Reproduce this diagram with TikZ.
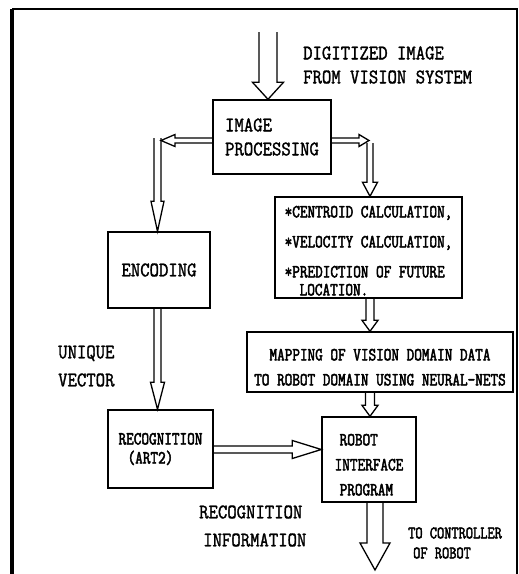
\documentclass[tikz,border=0pt]{standalone}
\usepackage{fontspec}
\usetikzlibrary{calc}
\newfontfamily\bigf[FakeStretch=0.88, FakeBold=1.5]{Latin Modern Mono}
\newfontfamily\smf[FakeStretch=0.8, FakeBold=2.5]{Latin Modern Mono}
\newcommand\arrD[5]{\draw[harrow] let \p1=(#1),\p2=(#2) in (\x2-#3pt,\y1) -- (\x2-#3pt,\y2+#5pt) -- (\x2-#4pt,\y2+#5pt) -- (\x2,\y2) -- (\x2+#4pt,\y2+#5pt) -- (\x2+#3pt,\y2+#5pt) -- (\x2+#3pt,\y1);}
\newcommand\arrR[5]{\draw[harrow] let \p1=(#1),\p2=(#2) in (\x1,\y2+#3pt) -- (\x2-#5pt,\y2+#3pt) -- (\x2-#5pt,\y2+#4pt) -- (\x2,\y2) -- (\x2-#5pt,\y2-#4pt) -- (\x2-#5pt,\y2-#3pt) -- (\x1,\y2-#3pt);}
\newcommand\arrL[5]{\draw[harrow] let \p1=(#1),\p2=(#2) in (\x1,\y2+#3pt) -- (\x2+#5pt,\y2+#3pt) -- (\x2+#5pt,\y2+#4pt) -- (\x2,\y2) -- (\x2+#5pt,\y2-#4pt) -- (\x2+#5pt,\y2-#3pt) -- (\x1,\y2-#3pt);}
\begin{document}
\begin{tikzpicture}[x=1pt,y=-1pt,
  box/.style={draw, line width=1.4pt, rectangle, inner sep=0pt},
  big/.style={font=\bigf\fontsize{20.7}{24}\selectfont},
  small/.style={font=\smf\fontsize{18.5}{18}\selectfont},
  lbl/.style={inner sep=0pt, anchor=west, align=left},
  harrow/.style={line width=1.3pt, line join=miter}]
\useasboundingbox (0,0) rectangle (519,574);
\fill[white] (0,0) rectangle (519,574);
% frame
\draw[line width=3.5pt] (12,580) -- (12,9);
\draw[line width=2.5pt] (12,9) -- (517,9) -- (517,580);
% boxes
\node[box, big, minimum width=118pt, minimum height=74pt, align=left] (ip) at (272,137) {IMAGE\\PROCESSING};
\node[box, big, minimum width=102pt, minimum height=76pt] (enc) at (159,270) {ENCODING};
\node[box, small, minimum width=187pt, minimum height=101pt, align=left] (cen) at (368.5,247.5)
  {\rule{0pt}{18pt}*CENTROID CALCULATION,\\[12pt]*VELOCITY CALCULATION,\\[12pt]*PREDICTION OF FUTURE\\\hspace{15pt}LOCATION.};
\node[box, small, minimum width=266pt, minimum height=60pt, align=center, font=\smf\fontsize{18.5}{25}\selectfont] (map) at (380,362)
  {\rule{0pt}{22pt}MAPPING OF VISION DOMAIN DATA\\TO ROBOT DOMAIN USING NEURAL-NETS};
\node[box, small, minimum width=94pt, minimum height=85pt, align=left, font=\smf\fontsize{18.5}{25}\selectfont] (rob) at (369,459.5)
  {\rule{0pt}{22pt}\hspace{5pt}ROBOT\\INTERFACE\\\hspace{5pt}PROGRAM};
\node[box, small, minimum width=105pt, minimum height=78pt, align=left, font=\smf\fontsize{18.5}{19}\selectfont] (rec) at (160.5,449)
  {RECOGNITION\\\hspace{9pt}(ART2)};
% labels
\node[lbl, big] (dig) at (303,65) {DIGITIZED IMAGE\\FROM VISION SYSTEM};
\node[lbl, big, font=\bigf\fontsize{20.7}{28}\selectfont] (uv) at (58,366) {UNIQUE\\VECTOR};
\node[lbl, big, font=\bigf\fontsize{20.7}{28}\selectfont] (ri) at (199,526) {RECOGNITION\\\hspace{4pt}INFORMATION};
\node[lbl, small, font=\smf\fontsize{17.5}{20}\selectfont] (tc) at (408,543) {TO CONTROLLER\\\hspace{5pt}OF ROBOT};
% coordinates
\coordinate (inA) at (268,32);
\coordinate (lj) at (161,140.5);
\coordinate (lt) at (157.5,138);
\coordinate (rj) at (369,140.5);
\coordinate (rt) at (370,143);
\coordinate (hy) at (0,449.5);
\coordinate (ot) at (375,570);
% arrows
\arrD{inA}{ip.north -| inA}{9}{15.5}{17}
\arrL{ip.west |- lj}{lj}{2.5}{6}{14}
\arrD{lt}{enc.north -| lt}{3.5}{6.5}{30}
\arrR{ip.east |- rj}{rj}{2.5}{6}{10}
\arrD{rt}{cen.north -| rt}{3}{7.5}{14}
\arrD{cen.south -| rt}{map.north -| rt}{4}{8}{11}
\arrD{map.south -| rt}{rob.north -| rt}{4.5}{8}{11}
\arrD{enc.south -| lt}{rec.north -| lt}{3.5}{7}{27}
\arrR{rec.east |- hy}{rob.west |- hy}{3.5}{9}{29}
\arrD{rob.south -| ot}{ot}{8}{15}{27}
\end{tikzpicture}
\end{document}
